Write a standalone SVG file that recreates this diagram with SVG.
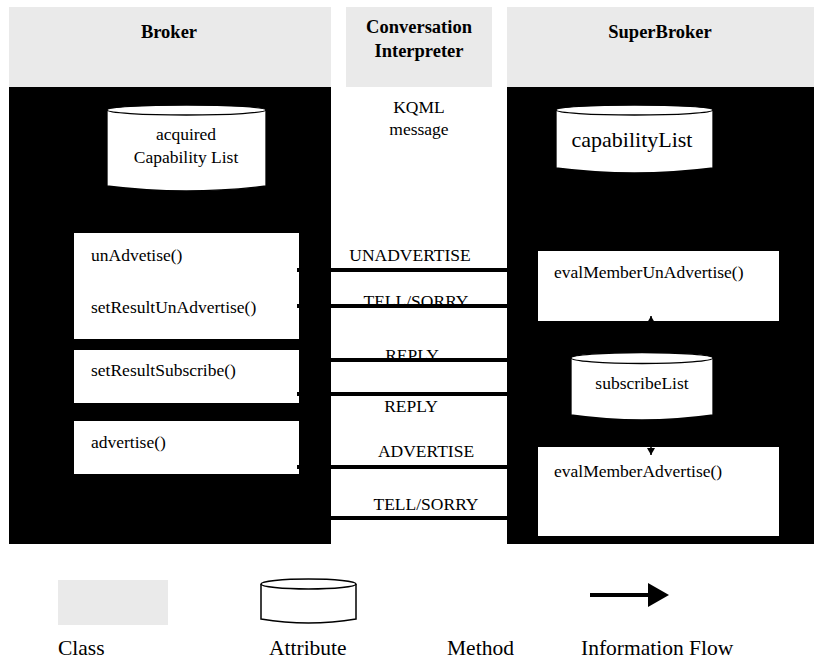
<svg xmlns="http://www.w3.org/2000/svg" width="814" height="659" viewBox="0 0 814 659">
<style>
text{font-family:"Liberation Serif","Times New Roman",serif;fill:#000}
.hdr{font-size:18.5px;font-weight:bold;text-anchor:middle}
.m{font-size:17.5px}
.lbl{font-size:17.5px;text-anchor:middle}
.leg{font-size:21.5px}
.cls{fill:#eaeaea}
.blk{fill:#000}
.box{fill:#fff}
.cyl{fill:#fff;stroke:#000;stroke-width:1.3}
.flow{stroke:#000;stroke-width:4;fill:none}
.thin{stroke:#000;stroke-width:1.5;fill:none}
</style>
<defs>
<marker id="tip" markerUnits="userSpaceOnUse" markerWidth="8" markerHeight="8" refX="7" refY="4" orient="auto"><path d="M0,0 L7,4 L0,8 Z" fill="#000"/></marker>
<marker id="bigtip" markerUnits="userSpaceOnUse" markerWidth="22" markerHeight="24" refX="0" refY="12" orient="auto"><path d="M0,0 L21,12 L0,24 Z" fill="#000"/></marker>
</defs>

<g id="broker">
<rect class="cls" x="9" y="7" width="322" height="80"/>
<rect class="blk" x="9" y="87" width="322" height="457"/>
<text class="hdr" x="169" y="38">Broker</text>
</g>
<g id="interpreter">
<rect class="cls" x="346" y="7" width="146" height="80"/>
<text class="hdr" x="419" y="33">Conversation</text>
<text class="hdr" x="419" y="57">Interpreter</text>
</g>
<g id="superbroker">
<rect class="cls" x="507" y="7" width="307" height="80"/>
<rect class="blk" x="507" y="87" width="307" height="457"/>
<text class="hdr" x="660" y="38">SuperBroker</text>
</g>

<g id="acquiredCapabilityList">
<path class="cyl" d="M107,110 L107,186 Q186,196 266,186 L266,110"/>
<ellipse class="cyl" cx="186.5" cy="110" rx="79.5" ry="5"/>
<text class="lbl" x="186" y="140">acquired</text>
<text class="lbl" x="186" y="163">Capability List</text>
</g>
<g id="capabilityList">
<path class="cyl" d="M556,110 L556,168 Q634,178 713,168 L713,110"/>
<ellipse class="cyl" cx="634.5" cy="110" rx="78.5" ry="5"/>
<text x="632" y="147" style="font-size:22px;text-anchor:middle">capabilityList</text>
</g>
<g id="subscribeList">
<path class="cyl" d="M571,358 L571,415 Q642,425 713,415 L713,358"/>
<ellipse class="cyl" cx="642" cy="358" rx="71" ry="5.5"/>
<text class="lbl" x="642" y="389">subscribeList</text>
</g>

<g id="kqml">
<text class="lbl" x="419" y="113">KQML</text>
<text class="lbl" x="419" y="135">message</text>
</g>

<g id="unAdvetise">
<rect class="box" x="74" y="233" width="225" height="106"/>
<text class="m" x="91" y="261">unAdvetise()</text>
<text class="m" x="91" y="313">setResultUnAdvertise()</text>
</g>
<g id="setResultSubscribe">
<rect class="box" x="74" y="350" width="225" height="53"/>
<text class="m" x="91" y="376">setResultSubscribe()</text>
</g>
<g id="advertise">
<rect class="box" x="74" y="421" width="225" height="53"/>
<text class="m" x="91" y="448">advertise()</text>
</g>
<g id="evalMemberUnAdvertise">
<rect class="box" x="538" y="251" width="241" height="70"/>
<text class="m" x="554" y="278">evalMemberUnAdvertise()</text>
</g>
<g id="evalMemberAdvertise">
<rect class="box" x="538" y="447" width="241" height="89"/>
<text class="m" x="554" y="477">evalMemberAdvertise()</text>
</g>

<g id="connectors">
<text class="lbl" x="410" y="261">UNADVERTISE</text>
<text class="lbl" x="416" y="307">TELL/SORRY</text>
<text class="lbl" x="412" y="361">REPLY</text>
<text class="lbl" x="411" y="412">REPLY</text>
<text class="lbl" x="426" y="457">ADVERTISE</text>
<text class="lbl" x="426" y="510">TELL/SORRY</text>
<line class="flow" x1="297" y1="270" x2="510" y2="270"/>
<line class="flow" x1="297" y1="306" x2="510" y2="306"/>
<line class="flow" x1="330" y1="360" x2="510" y2="360"/>
<line class="flow" x1="297" y1="394" x2="510" y2="394"/>
<line class="flow" x1="297" y1="467" x2="510" y2="467"/>
<line class="flow" x1="330" y1="518" x2="510" y2="518"/>
<line class="thin" x1="651" y1="340" x2="651" y2="316" marker-end="url(#tip)"/>
<line class="thin" x1="651" y1="430" x2="651" y2="455" marker-end="url(#tip)"/>
</g>

<g id="legend">
<rect class="cls" x="58" y="580" width="110" height="45"/>
<path class="cyl" d="M261,584 L261,619 Q308.5,627 356,619 L356,584" style="stroke-width:1.5"/>
<ellipse class="cyl" cx="308.5" cy="584" rx="47.5" ry="5" style="stroke-width:1.5"/>
<line x1="590" y1="595" x2="648" y2="595" stroke="#000" stroke-width="4" marker-end="url(#bigtip)"/>
<text class="leg" x="58" y="655">Class</text>
<text class="leg" x="269" y="655">Attribute</text>
<text class="leg" x="447" y="655">Method</text>
<text class="leg" x="581" y="655">Information Flow</text>
</g>
</svg>
